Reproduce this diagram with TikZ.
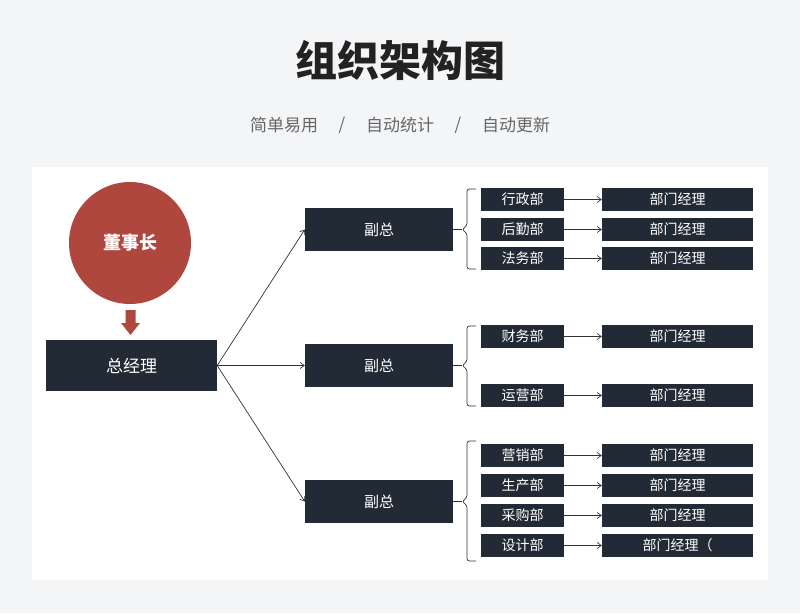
\documentclass[tikz,border=0pt]{standalone}
\usepackage{fontspec}
\setmainfont{Noto Sans CJK SC}
\usetikzlibrary{arrows.meta}
\definecolor{bg}{HTML}{F4F5F7}
\definecolor{navy}{HTML}{222A35}
\definecolor{brick}{HTML}{B0473F}
\definecolor{subgray}{HTML}{666666}
\definecolor{ttl}{HTML}{222222}
\definecolor{lin}{HTML}{333333}
\begin{document}
\begin{tikzpicture}[x=1pt,y=-1pt,
  dk/.style={fill=navy,text=white,inner sep=0pt,font=\fontsize{14}{14}\selectfont},
  gm/.style={dk,minimum width=171pt,minimum height=51pt,font=\fontsize{17}{17}\selectfont},
  vp/.style={dk,minimum width=148pt,minimum height=43pt,font=\fontsize{15}{15}\selectfont},
  dept/.style={dk,minimum width=83pt,minimum height=23pt},
  mgr/.style={dk,minimum width=151pt,minimum height=23pt},
  sub/.style={text=subgray,font=\fontsize{17}{17}\selectfont},
  conn/.style={lin,line width=0.7pt,-{Straight Barb[length=4pt,width=6pt]}},
  brace/.style={lin,line width=0.7pt,rounded corners=2.5pt}
]
\fill[bg] (0,0) rectangle (800,613);
\useasboundingbox (0,0) rectangle (800,613);
\fill[white] (32,167) rectangle (768,580);
% titles
\node[text=ttl,font=\fontsize{42}{42}\selectfont\bfseries] (title) at (400,60) {组织架构图};
\node[sub] (s1) at (284,125) {简单易用};
\node[sub] (d1) at (342,125) {/};
\node[sub] (s2) at (400,125) {自动统计};
\node[sub] (d2) at (458,125) {/};
\node[sub] (s3) at (516,125) {自动更新};
% chairman
\node[circle,fill=brick,minimum size=122pt,inner sep=0pt,text=white,font=\fontsize{18}{18}\selectfont\bfseries] (chair) at (130,243) {董事长};
\fill[brick] (125.5,310) -- (135.5,310) -- (135.5,323) -- (140,323) -- (130.5,335) -- (121,323) -- (125.5,323) -- cycle;
\node[gm] (gm) at (131.5,365.5) {总经理};
% vice presidents
\node[vp] (v1) at (379,229.5) {副总};
\node[vp] (v2) at (379,365.5) {副总};
\node[vp] (v3) at (379,501.5) {副总};
\draw[conn] (gm.east) -- (v1.west);
\draw[conn] (gm.east) -- (v2.west);
\draw[conn] (gm.east) -- (v3.west);
% departments
\node[dept] (a1) at (522.5,199.5) {行政部};
\node[dept] (a2) at (522.5,229.5) {后勤部};
\node[dept] (a3) at (522.5,258.5) {法务部};
\node[dept] (b1) at (522.5,336.5) {财务部};
\node[dept] (b2) at (522.5,395.5) {运营部};
\node[dept] (c1) at (522.5,455.5) {营销部};
\node[dept] (c2) at (522.5,485.5) {生产部};
\node[dept] (c3) at (522.5,515.5) {采购部};
\node[dept] (c4) at (522.5,545.5) {设计部};
% managers
\node[mgr] (ma1) at (677.5,199.5) {部门经理};
\node[mgr] (ma2) at (677.5,229.5) {部门经理};
\node[mgr] (ma3) at (677.5,258.5) {部门经理};
\node[mgr] (mb1) at (677.5,336.5) {部门经理};
\node[mgr] (mb2) at (677.5,395.5) {部门经理};
\node[mgr] (mc1) at (677.5,455.5) {部门经理};
\node[mgr] (mc2) at (677.5,485.5) {部门经理};
\node[mgr] (mc3) at (677.5,515.5) {部门经理};
\node[mgr] (mc4) at (677.5,545.5) {部门经理（};
\foreach \d/\m in {a1/ma1,a2/ma2,a3/ma3,b1/mb1,b2/mb2,c1/mc1,c2/mc2,c3/mc3,c4/mc4}
  \draw[conn] (\d.east) -- (\m.west);
% braces
\coordinate (t1) at (462,229.5);
\coordinate (t2) at (462,365.5);
\coordinate (t3) at (462,501.5);
\draw[lin,line width=0.7pt] (v1.east) -- (t1);
\draw[lin,line width=0.7pt] (v2.east) -- (t2);
\draw[lin,line width=0.7pt] (v3.east) -- (t3);
\draw[brace] (476,189) -- (467,189) -- (467,225.5) -- (t1) -- (467,233.5) -- (467,269) -- (476,269);
\draw[brace] (476,326) -- (467,326) -- (467,361.5) -- (t2) -- (467,369.5) -- (467,406) -- (476,406);
\draw[brace] (476,441) -- (467,441) -- (467,497.5) -- (t3) -- (467,505.5) -- (467,561) -- (476,561);
\end{tikzpicture}
\end{document}
